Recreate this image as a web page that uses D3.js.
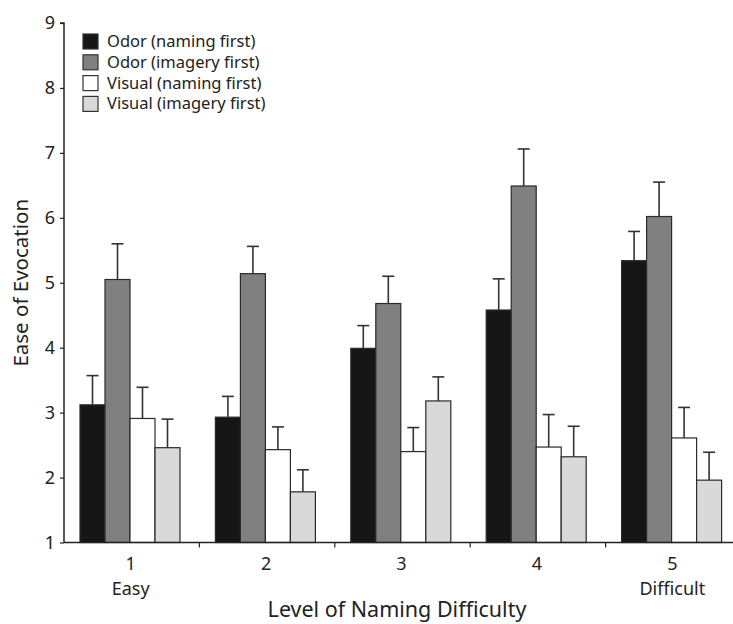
<!DOCTYPE html>
<html>
<head>
<meta charset="utf-8">
<script src="https://cdn.jsdelivr.net/npm/d3@7"></script>
<style>
  body { margin: 0; background: #fff; }
  text { font-family: "Noto Sans", "Open Sans", sans-serif; fill: #222; }
</style>
</head>
<body>
<div id="chart"></div>
<script>
const levels = ['1', '2', '3', '4', '5'];
const levelNotes = ['Easy', '', '', '', 'Difficult'];
const seriesNames = ['Odor (naming first)', 'Odor (imagery first)', 'Visual (naming first)', 'Visual (imagery first)'];
const seriesColors = ['#161616', '#808080', '#ffffff', '#d9d9d9'];

// means and top of error bar, per series, per level
const odorNaming = [3.12, 2.93, 3.99, 4.58, 5.34];
const odorImagery = [5.05, 5.14, 4.68, 6.49, 6.02];
const visualNaming = [2.91, 2.43, 2.40, 2.47, 2.61];
const visualImagery = [2.46, 1.78, 3.18, 2.32, 1.96];

const odorNamingErr = [3.57, 3.25, 4.34, 5.06, 5.79];
const odorImageryErr = [5.60, 5.56, 5.10, 7.06, 6.55];
const visualNamingErr = [3.39, 2.78, 2.77, 2.97, 3.08];
const visualImageryErr = [2.90, 2.12, 3.55, 2.79, 2.39];

const yTicks = [1, 2, 3, 4, 5, 6, 7, 8, 9];

const means = [odorNaming, odorImagery, visualNaming, visualImagery];
const tops = [odorNamingErr, odorImageryErr, visualNamingErr, visualImageryErr];

const width = 733, height = 624;
const margin = { left: 64, top: 23, bottom: 82 };
const plotRight = 741;

const svg = d3.select('#chart').append('svg')
  .attr('width', width)
  .attr('height', height);

const x = d3.scaleBand().domain(levels).range([margin.left, plotRight]);
const xInner = d3.scaleBand().domain(d3.range(4)).range([16, 116]);
const y = d3.scaleLinear().domain([1, 9]).range([height - margin.bottom + 0.5, margin.top]);

const bars = [];
levels.forEach((lv, i) => {
  means.forEach((s, j) => {
    bars.push({ level: lv, series: j, value: s[i], top: tops[j][i] });
  });
});

// bars
svg.append('g')
  .selectAll('rect')
  .data(bars)
  .enter().append('rect')
  .attr('x', d => x(d.level) + xInner(d.series))
  .attr('y', d => y(d.value))
  .attr('width', xInner.bandwidth())
  .attr('height', d => y(1) - y(d.value))
  .attr('fill', d => seriesColors[d.series])
  .attr('stroke', '#2a2a2a')
  .attr('stroke-width', 1.2);

// error bars
const err = svg.append('g').attr('stroke', '#333').attr('stroke-width', 1.6);
err.selectAll('line.v')
  .data(bars)
  .enter().append('line')
  .attr('class', 'v')
  .attr('x1', d => x(d.level) + xInner(d.series) + xInner.bandwidth() / 2)
  .attr('x2', d => x(d.level) + xInner(d.series) + xInner.bandwidth() / 2)
  .attr('y1', d => y(d.value))
  .attr('y2', d => y(d.top));
err.selectAll('line.c')
  .data(bars)
  .enter().append('line')
  .attr('class', 'c')
  .attr('x1', d => x(d.level) + xInner(d.series) + xInner.bandwidth() / 2 - 6)
  .attr('x2', d => x(d.level) + xInner(d.series) + xInner.bandwidth() / 2 + 6)
  .attr('y1', d => y(d.top))
  .attr('y2', d => y(d.top));

// y axis
const yAxis = svg.append('g')
  .attr('transform', `translate(${margin.left},0)`)
  .call(d3.axisLeft(y).tickValues(yTicks).tickSize(4).tickPadding(5));
yAxis.select('.domain').attr('stroke', '#222').attr('stroke-width', 1.5).attr('d', `M-4,${y(9)}H0V${y(1)}`);
yAxis.selectAll('.tick line').attr('stroke', '#222').attr('stroke-width', 1.2);
yAxis.selectAll('.tick text').attr('font-size', 18).attr('font-family', '"Noto Sans", sans-serif').attr('fill', '#222');

// x axis
const xAxisG = svg.append('g').attr('transform', `translate(0,${y(1)})`);
xAxisG.append('line')
  .attr('x1', margin.left).attr('x2', plotRight)
  .attr('stroke', '#222').attr('stroke-width', 1.5);
xAxisG.selectAll('line.tk')
  .data(levels.slice(1))
  .enter().append('line')
  .attr('class', 'tk')
  .attr('x1', d => x(d)).attr('x2', d => x(d))
  .attr('y1', 0).attr('y2', 5)
  .attr('stroke', '#222').attr('stroke-width', 1.2);
xAxisG.selectAll('text.lv')
  .data(levels)
  .enter().append('text')
  .attr('class', 'lv')
  .attr('x', d => x(d) + x.bandwidth() / 2 - 1)
  .attr('y', 27)
  .attr('text-anchor', 'middle')
  .attr('font-size', 18)
  .text(d => d);
xAxisG.selectAll('text.note')
  .data(levels)
  .enter().append('text')
  .attr('class', 'note')
  .attr('x', d => x(d) + x.bandwidth() / 2 - 1)
  .attr('y', 52)
  .attr('text-anchor', 'middle')
  .attr('font-size', 18)
  .text((d, i) => levelNotes[i]);

// axis titles
svg.append('text')
  .attr('x', 397).attr('y', 617)
  .attr('text-anchor', 'middle')
  .attr('font-size', 21.5)
  .text('Level of Naming Difficulty');
svg.append('text')
  .attr('transform', `translate(28,${(y(1) + y(9)) / 2}) rotate(-90)`)
  .attr('text-anchor', 'middle')
  .attr('font-size', 20.5)
  .text('Ease of Evocation');

// legend
const legend = svg.append('g').attr('transform', 'translate(83,34)');
const item = legend.selectAll('g')
  .data(seriesNames)
  .enter().append('g')
  .attr('transform', (d, i) => `translate(0,${i * 20.8})`);
item.append('rect')
  .attr('width', 15).attr('height', 15)
  .attr('fill', (d, i) => seriesColors[i])
  .attr('stroke', '#333').attr('stroke-width', 1.2);
item.append('text')
  .attr('x', 24).attr('y', 13)
  .attr('font-size', 16.5)
  .text(d => d);
</script>
</body>
</html>
